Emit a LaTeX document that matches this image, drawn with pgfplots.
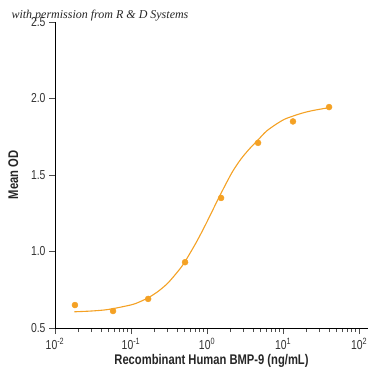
\documentclass[border=0pt]{standalone}
\usepackage{fontspec}
\setmainfont{Liberation Sans}[FakeStretch=0.80]
\newfontfamily\wmfont{Liberation Serif}
\usepackage{pgfplots}
\pgfplotsset{compat=1.18}
\definecolor{rdorange}{RGB}{244,161,36}
\begin{document}
\begin{tikzpicture}
\path[use as bounding box] (0,0) rectangle (375pt,375pt);
\begin{axis}[
  at={(55pt,47pt)}, anchor=south west,
  width=313pt, height=306pt, scale only axis,
  xmode=log, xmin=0.01, xmax=131, ymin=0.5, ymax=2.5,
  axis lines=left, axis line style={-, black, line width=0.8pt},
  xtick={0.01,0.1,1,10,100},
  xticklabels={10\textsuperscript{-2},10\textsuperscript{-1},10\textsuperscript{0},10\textsuperscript{1},10\textsuperscript{2}},
  ytick={0.5,1.0,1.5,2.0,2.5},
  yticklabel style={/pgf/number format/fixed,/pgf/number format/fixed zerofill,/pgf/number format/precision=1},
  /pgf/number format/assume math mode=true,
  tick align=outside, tick pos=left,
  major tick length=6pt, minor tick length=4pt,
  tick style={black!70, line width=0.5pt},
  ticklabel style={font=\fontsize{13}{15}\selectfont, text=black!80},
  xticklabel style={yshift=-1pt},
  xlabel={\textbf{Recombinant Human BMP-9 (ng/mL)}},
  ylabel={\textbf{Mean OD}},
  label style={font=\fontsize{14}{16}\selectfont, text=black!85},
  xlabel style={yshift=2pt},
  ylabel style={yshift=6pt},
  clip=false,
]
\addplot[rdorange, line width=1.1pt, smooth, no marks] coordinates {
(0.018,0.606) (0.03,0.611) (0.05,0.621) (0.1,0.651) (0.13,0.671) (0.17,0.699) (0.22,0.734) (0.3,0.79)
(0.4,0.861) (0.5,0.925) (0.7,1.048) (0.85,1.126) (1,1.195) (1.25,1.293) (1.5,1.372) (1.8,1.449)
(2.2,1.528) (2.8,1.605) (3.6,1.67) (4.7,1.73) (6,1.785) (8,1.83) (10.5,1.865)
(13.5,1.885) (18,1.905) (25,1.922) (40,1.94)};
\addplot[only marks, mark=*, mark size=3pt, color=rdorange] coordinates {
(0.0183,0.65) (0.058,0.611) (0.168,0.69) (0.514,0.93) (1.53,1.35) (4.69,1.71) (13.5,1.85) (40.3,1.944)};
\end{axis}
\node[anchor=west, font=\wmfont\itshape\fontsize{12}{14}\selectfont, text=black!85] at (8pt,359pt) {with permission from R \& D Systems};
\end{tikzpicture}
\end{document}
